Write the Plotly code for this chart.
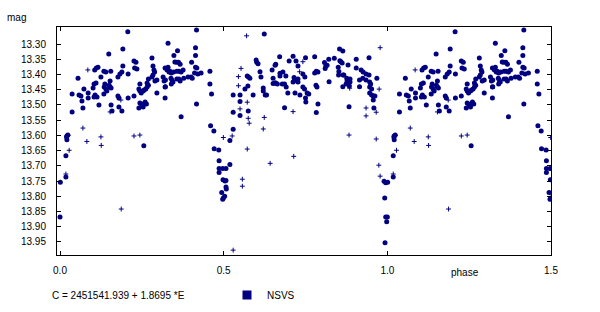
import plotly.graph_objects as go

# ---- data: phase in [0,1), magnitude ----
big_phase = [
    0.207,0.330,0.192,0.149,0.116,0.111,0.106,0.134,0.140,0.155,0.125,0.055,0.110,0.104,0.137,0.135,
    0.140,0.143,0.153,0.150,0.153,0.177,0.183,0.189,0.192,0.208,0.226,0.232,0.228,0.235,0.281,0.284,
    0.287,0.289,0.284,0.281,0.296,0.290,0.270,0.266,0.321,0.330,0.315,0.318,0.321,0.244,0.241,0.244,
    0.248,0.254,0.257,0.262,0.266,0.270,0.296,0.321,0.037,0.058,0.064,0.073,0.086,0.101,0.107,0.104,
    0.113,0.086,0.067,0.070,0.119,0.134,0.156,0.177,0.180,0.208,0.226,0.156,0.180,0.189,0.159,0.037,
    0.244,0.250,0.254,0.260,0.264,0.241,0.254,0.021,0.024,0.020,0.021,0.256,0.018,0.018,0.001,0.000,
    0.417,0.624,0.359,0.414,0.348,0.414,0.351,0.356,0.362,0.367,0.414,0.418,0.402,0.327,0.333,0.336,
    0.340,0.347,0.357,0.363,0.370,0.376,0.339,0.342,0.357,0.363,0.367,0.378,0.391,0.400,0.404,0.322,
    0.322,0.340,0.345,0.411,0.421,0.431,0.458,0.458,0.417,0.463,0.370,0.460,0.470,0.529,0.529,0.550,
    0.550,0.529,0.550,0.575,0.572,0.576,0.580,0.565,0.574,0.590,0.599,0.605,0.601,0.611,0.614,0.621,
    0.621,0.627,0.631,0.648,0.657,0.651,0.651,0.657,
    0.854,0.864,0.671,0.712,0.750,0.778,0.838,0.821,0.855,0.858,0.862,0.905,0.944,0.808,0.812,0.816,
    0.810,0.659,0.700,0.721,0.727,0.681,0.672,0.742,0.748,0.778,0.783,0.788,0.850,0.852,0.851,0.865,
    0.880,0.905,0.920,0.926,0.935,0.944,0.672,0.690,0.715,0.727,0.716,0.867,0.876,0.886,0.877,0.886,
    0.874,0.884,0.659,0.664,0.679,0.686,0.691,0.712,0.727,0.742,0.747,0.782,0.785,0.822,0.864,0.915,
    0.946,0.949,0.946,0.952,0.946,0.952,0.957,0.962,0.957,0.968,0.915,0.935,0.925,0.696,0.718,0.733,
    0.755,0.760,0.750,0.751,0.788,0.686,0.783,0.883,0.959,
    0.519,0.471,0.485,0.486,0.519,0.486,0.497,0.507,0.486,0.498,0.504,0.507,0.507,0.508,0.494,0.503,
    0.499,0.497,0.990,0.995,0.992,0.995,0.998,0.993,
]
big_mag = [
    13.260,13.297,13.316,13.333,13.376,13.379,13.385,13.389,13.392,13.389,13.408,13.412,13.428,13.431,13.431,13.441,
    13.448,13.454,13.421,13.435,13.441,13.408,13.398,13.392,13.372,13.398,13.356,13.360,13.379,13.382,13.346,13.372,
    13.385,13.392,13.402,13.408,13.418,13.421,13.415,13.428,13.379,13.376,13.408,13.421,13.441,13.431,13.448,13.454,
    13.461,13.454,13.451,13.448,13.441,13.435,13.461,13.477,13.464,13.467,13.471,13.448,13.461,13.444,13.467,13.474,
    13.474,13.477,13.487,13.510,13.500,13.464,13.444,13.471,13.477,13.477,13.471,13.500,13.507,13.520,13.520,13.523,
    13.494,13.500,13.497,13.490,13.497,13.510,13.507,13.602,13.599,13.605,13.614,13.634,13.667,13.737,13.754,13.868,
    13.254,13.267,13.322,13.312,13.338,13.338,13.359,13.360,13.360,13.366,13.376,13.379,13.360,13.385,13.392,13.389,
    13.395,13.392,13.389,13.389,13.392,13.385,13.412,13.418,13.415,13.415,13.421,13.412,13.408,13.408,13.412,13.418,
    13.440,13.431,13.425,13.395,13.398,13.395,13.389,13.431,13.497,13.464,13.539,13.568,13.586,13.580,13.467,13.467,
    13.489,13.524,13.535,13.520,13.405,13.408,13.412,13.448,13.438,13.467,13.352,13.365,13.360,13.391,13.408,13.444,
    13.454,13.467,13.467,13.385,13.370,13.412,13.430,13.428,
    13.316,13.323,13.342,13.340,13.345,13.342,13.347,13.350,13.355,13.358,13.362,13.350,13.345,13.361,13.372,13.370,
    13.380,13.366,13.356,13.356,13.372,13.392,13.396,13.398,13.408,13.395,13.389,13.392,13.376,13.390,13.402,13.402,
    13.369,13.379,13.385,13.392,13.398,13.402,13.405,13.405,13.410,13.415,13.420,13.402,13.412,13.415,13.421,13.425,
    13.431,13.438,13.428,13.431,13.431,13.431,13.441,13.425,13.425,13.441,13.448,13.435,13.441,13.424,13.440,13.440,
    13.425,13.431,13.441,13.448,13.461,13.467,13.471,13.471,13.484,13.412,13.418,13.418,13.412,13.461,13.461,13.467,
    13.461,13.464,13.477,13.490,13.497,13.509,13.525,13.506,13.510,
    13.617,13.644,13.648,13.683,13.696,13.709,13.709,13.709,13.722,13.746,13.750,13.748,13.770,13.776,13.788,13.800,
    13.806,13.810,13.751,13.756,13.806,13.868,13.884,13.953,
]
small_phase = [
    0.085,0.186,0.153,0.070,0.125,0.226,0.244,0.082,0.126,0.028,0.018,0.187,0.025,
    0.570,0.499,0.526,0.553,0.545,0.545,0.572,0.550,0.575,0.578,0.624,0.621,0.572,0.557,0.557,0.642,0.529,
    0.978,0.742,0.732,0.885,0.975,0.712,0.935,0.966,0.935,0.883,0.966,0.714,0.974,0.978,
]
small_mag = [
    13.385,13.484,13.523,13.576,13.605,13.602,13.599,13.620,13.633,13.649,13.727,13.842,13.600,
    13.273,13.607,13.602,13.380,13.407,13.437,13.491,13.513,13.544,13.560,13.541,13.579,13.645,13.744,13.767,13.692,13.977,
    13.312,13.358,13.391,13.445,13.448,13.522,13.510,13.524,13.536,13.599,13.612,13.669,13.698,13.734,
]

y_ticks = [13.30,13.35,13.40,13.45,13.50,13.55,13.60,13.65,13.70,13.75,13.80,13.85,13.90,13.95]
x_ticks = [0.0, 0.5, 1.0, 1.5]

equation = "C = 2451541.939 + 1.8695 *E"
series_name = "NSVS"
navy = "#000080"

def extend(ph, mg):
    xs = list(ph) + [p + 1 for p in ph if p <= 0.5]
    ys = list(mg) + [m for p, m in zip(ph, mg) if p <= 0.5]
    return xs, ys

bx, by = extend(big_phase, big_mag)
sx, sy = extend(small_phase, small_mag)

fig = go.Figure()
fig.add_trace(go.Scatter(x=bx, y=by, mode="markers", showlegend=False,
                         marker=dict(symbol="circle", size=5, color=navy, line=dict(width=0))))
fig.add_trace(go.Scatter(x=sx, y=sy, mode="markers", showlegend=False,
                         marker=dict(symbol="cross-thin", size=3.5, color=navy,
                                     line=dict(width=1, color=navy))))
fig.add_trace(go.Scatter(x=[None], y=[None], mode="markers", name=series_name,
                         marker=dict(symbol="square", size=9, color=navy)))

font = dict(family="Liberation Sans, Arial, sans-serif", size=10, color="black")
W, H = 600, 312
PW, PH = W - 57 - 49, H - 27 - 57
fig.update_layout(
    width=W, height=H,
    margin=dict(l=57, r=49, t=27, b=57, autoexpand=False),
    paper_bgcolor="white", plot_bgcolor="white",
    font=font,
    showlegend=True,
    legend=dict(orientation="h", x=(227-57)/PW, y=-(295-255)/PH, xanchor="left", yanchor="middle",
                font=font, itemsizing="trace", bgcolor="rgba(0,0,0,0)"),
    xaxis=dict(range=[-0.0092, 1.5], tickvals=x_ticks, tickformat=".1f",
               ticks="inside", ticklen=4, tickcolor="black", mirror="ticks",
               showline=True, linecolor="black", linewidth=1, showgrid=False, zeroline=False,
               ticklabelstandoff=6),
    yaxis=dict(range=[13.993, 13.244], tickvals=y_ticks, tickformat=".2f",
               ticks="inside", ticklen=4, tickcolor="black", mirror="ticks",
               showline=True, linecolor="black", linewidth=1, showgrid=False, zeroline=False,
               ticklabelstandoff=8),
    annotations=[
        dict(text="mag", xref="paper", yref="paper", x=-(57-5)/PW, y=1+(27-17)/PH,
             xanchor="left", yanchor="middle", showarrow=False, font=font),
        dict(text="phase", xref="paper", yref="paper", x=(449-57)/PW, y=-(272-255)/PH,
             xanchor="left", yanchor="middle", showarrow=False, font=font),
        dict(text=equation, xref="paper", yref="paper", x=-(57-50)/PW, y=-(295-255)/PH,
             xanchor="left", yanchor="middle", showarrow=False, font=font),
    ],
)
fig.write_html("out.html")
